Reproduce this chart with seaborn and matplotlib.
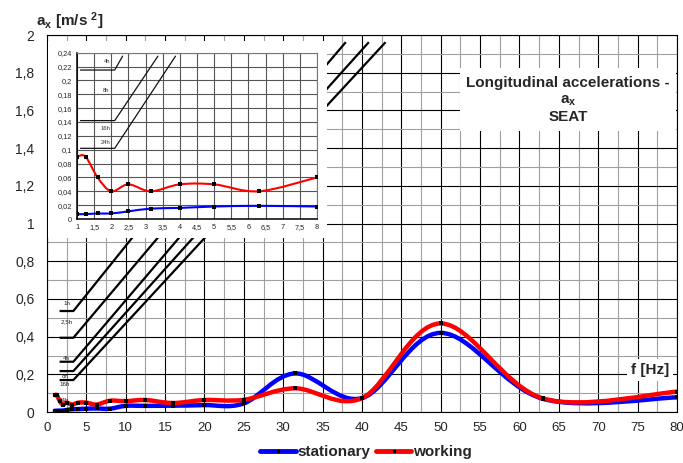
import numpy as np
import pandas as pd
import matplotlib
matplotlib.use("Agg")
import matplotlib.pyplot as plt
import seaborn as sns
from matplotlib.path import Path
from matplotlib.patches import PathPatch, Rectangle
from matplotlib.lines import Line2D
from matplotlib.ticker import MultipleLocator, FuncFormatter

# ---------------- data ----------------
freqs = [1, 1.25, 1.6, 2, 2.5, 3.15, 4, 5, 6.3, 8, 10, 12.5, 16, 20, 25, 31.5, 40, 50, 63, 80]
stationary = [0.007, 0.007, 0.008, 0.008, 0.011, 0.015, 0.016, 0.018, 0.019, 0.018,
              0.033, 0.033, 0.034, 0.037, 0.046, 0.205, 0.074, 0.42, 0.070, 0.078]
working = [0.090, 0.090, 0.060, 0.040, 0.050, 0.040, 0.050, 0.050, 0.040, 0.060,
           0.058, 0.064, 0.048, 0.064, 0.065, 0.126, 0.074, 0.47, 0.072, 0.108]

# exposure-time boundary lines (main chart)
iso_labels = ["1h", "2,5h", "4h", "8h", "16h"]
iso_levels = [0.536, 0.394, 0.267, 0.2175, 0.17]
iso_slopes = [0.052, 0.0495, 0.049, 0.0465, 0.0452]
# exposure-time boundary lines (inset)
inset_iso_levels = [0.215, 0.142, 0.102]
inset_iso_slopes = [0.087, 0.0738, 0.075]
inset_iso_labels = ["4h", "8h", "16h", "24h"]

x_ticks = list(range(0, 81, 5))
y_ticks = [0, 0.2, 0.4, 0.6, 0.8, 1.0, 1.2, 1.4, 1.6, 1.8, 2.0]

BLUE = "#0000ff"
RED = "#ff0000"

sns.set_style("white")
plt.rcParams['font.family'] = ['Liberation Sans', 'DejaVu Sans']
plt.rcParams['mathtext.fontset'] = 'custom'
plt.rcParams['mathtext.rm'] = 'Liberation Sans'
plt.rcParams['mathtext.bf'] = 'Liberation Sans:bold'
plt.rcParams['mathtext.it'] = 'Liberation Sans:italic'


def smooth_path(x, y):
    """Excel-like smoothed line: cubic Bezier through the data points."""
    pts = np.column_stack([x, y]).astype(float)
    n = len(pts)
    verts = [pts[0]]
    codes = [Path.MOVETO]
    for i in range(n - 1):
        p0 = pts[i - 1] if i > 0 else pts[i]
        p1 = pts[i]
        p2 = pts[i + 1]
        p3 = pts[i + 2] if i + 2 < n else pts[i + 1]
        c1 = p1 + (p2 - p0) / 6.0
        c2 = p2 - (p3 - p1) / 6.0
        verts += [c1, c2, p2]
        codes += [Path.CURVE4] * 3
    return Path(verts, codes)


comma = FuncFormatter(lambda v, p: f"{v:g}".replace('.', ','))

fig = plt.figure(figsize=(6.83, 4.63), dpi=100)
ax = fig.add_axes([0.0688, 0.110, 0.9224, 0.8144])
ax.set_xlim(0, 80)
ax.set_ylim(0, 2)
ax.set_xticks(x_ticks)
ax.set_yticks(y_ticks)
ax.xaxis.set_minor_locator(MultipleLocator(2.5))
ax.yaxis.set_minor_locator(MultipleLocator(0.1))
ax.xaxis.set_major_formatter(comma)
ax.yaxis.set_major_formatter(comma)
ax.set_axisbelow(True)
ax.grid(which='major', color='black', lw=0.8)
ax.grid(which='minor', color='#a0a0a0', lw=0.8)
ax.tick_params(axis='x', which='both', direction='out', length=4, color='black',
               labelsize=9.5, pad=3)
ax.tick_params(axis='y', which='major', direction='out', length=5, color='black',
               labelsize=10, pad=4)
ax.tick_params(axis='y', which='minor', length=0)
for s in ax.spines.values():
    s.set_color('black')
    s.set_linewidth(0.8)

# boundary lines
Y_TOP = 1.962
for lab, lev, sl in zip(iso_labels, iso_levels, iso_slopes):
    x_end = 3.35 + (Y_TOP - lev) / sl
    ax.plot([1.6, 3.35, x_end], [lev, lev, Y_TOP], color='black', lw=1.6, zorder=2,
            solid_capstyle='butt')
lab_pos = [(2.5, 0.578), (2.5, 0.48), (2.5, 0.285), (2.3, 0.19), (2.3, 0.147), (2.1, 0.063)]
for lab, (lx, ly) in zip(iso_labels + ["24h"], lab_pos):
    ax.text(lx, ly, lab, fontsize=4.5, color='#222', ha='center', va='center', zorder=2)

# white areas (under inset and title)
ax.add_patch(Rectangle((0.12, 0.923), 35.43, 1.968 - 0.923, facecolor='white',
                       edgecolor='none', zorder=3))
ax.add_patch(Rectangle((52.45, 1.49), 27.4, 0.335, facecolor='white',
                       edgecolor='none', zorder=3))

# curves
ax.add_patch(PathPatch(smooth_path(freqs, stationary), fill=False, edgecolor=BLUE,
                       lw=3.2, zorder=4, capstyle='round', joinstyle='round'))
ax.add_patch(PathPatch(smooth_path(freqs, working), fill=False, edgecolor=RED,
                       lw=3.2, zorder=5, capstyle='round', joinstyle='round'))
sns.scatterplot(x=freqs, y=stationary, ax=ax, color='black', marker='s', s=7,
                linewidth=0, zorder=6, legend=False)
sns.scatterplot(x=freqs, y=working, ax=ax, color='black', marker='s', s=7,
                linewidth=0, zorder=6, legend=False)

# ---------------- inset ----------------
ins = fig.add_axes([77 / 683, 1 - 219 / 463, 240 / 683, 166.3 / 463])
ins.set_facecolor('white')
ins.set_xlim(1, 8)
ins.set_ylim(0, 0.24)
ins.xaxis.set_major_locator(MultipleLocator(0.5))
ins.yaxis.set_major_locator(MultipleLocator(0.02))
ins.xaxis.set_major_formatter(comma)
ins.yaxis.set_major_formatter(comma)
ins.set_axisbelow(True)
ins.grid(which='major', color='#555555', lw=0.8)
ins.tick_params(axis='both', which='major', direction='out', length=2, labelsize=5.3,
                pad=1.5, color='#333')
for side, s in ins.spines.items():
    s.set_color('black' if side in ('left', 'bottom') else '#777777')
    s.set_linewidth(1.1 if side in ('left', 'bottom') else 0.8)

for lev, sl in zip(inset_iso_levels, inset_iso_slopes):
    x_end = 2.1 + (0.235 - lev) / sl
    ins.plot([1.1, 2.1, x_end], [lev, lev, 0.235], color='#111', lw=0.9, zorder=2)
ins_lab_pos = [(1.87, 0.227), (1.84, 0.186), (1.84, 0.131), (1.84, 0.111)]
for lab, (lx, ly) in zip(inset_iso_labels, ins_lab_pos):
    ins.text(lx, ly, lab, fontsize=4.2, color='#333', ha='center', va='center')

n_in = freqs.index(8) + 1
ins.add_patch(PathPatch(smooth_path(freqs[:n_in], stationary[:n_in]), fill=False,
                        edgecolor=BLUE, lw=1.5, zorder=4))
ins.add_patch(PathPatch(smooth_path(freqs[:n_in], working[:n_in]), fill=False,
                        edgecolor=RED, lw=1.5, zorder=5))
sns.scatterplot(x=freqs[:n_in], y=stationary[:n_in], ax=ins, color='black', marker='s',
                s=8, linewidth=0, zorder=6, legend=False)
sns.scatterplot(x=freqs[:n_in], y=working[:n_in], ax=ins, color='black', marker='s',
                s=8, linewidth=0, zorder=6, legend=False)

# ---------------- texts ----------------
fig.text(36 / 683, 1 - 21 / 463, r"a$_{\mathbf{x}}$ [m/s $^{\mathbf{2}}$]",
         fontsize=11, fontweight='bold', ha='left', va='center')
fig.text(568 / 683, 1 - 83 / 463, "Longitudinal accelerations -", fontsize=11,
         fontweight='bold', ha='center', va='center')
fig.text(568 / 683, 1 - 101 / 463, r"a$_{\mathbf{x}}$", fontsize=11,
         fontweight='bold', ha='center', va='center')
fig.text(568 / 683, 1 - 117 / 463, "SEAT", fontsize=11,
         fontweight='bold', ha='center', va='center')
fig.text(650 / 683, 1 - 370 / 463, "f [Hz]", fontsize=11, fontweight='bold',
         ha='center', va='center',
         bbox=dict(facecolor='white', edgecolor='none', pad=2.5))

handles = [
    Line2D([0], [0], color=BLUE, lw=3.5, marker='s', markersize=2,
           markerfacecolor='black', markeredgecolor='black'),
    Line2D([0], [0], color=RED, lw=3.5, marker='s', markersize=2,
           markerfacecolor='black', markeredgecolor='black'),
]
fig.legend(handles=handles, labels=['stationary', 'working'], loc='center',
           bbox_to_anchor=(366 / 683, 1 - 452 / 463), ncol=2, frameon=False,
           prop={'weight': 'bold', 'size': 11}, handlelength=2.3,
           handletextpad=0.1, columnspacing=0.4, numpoints=1)

fig.savefig("out.png", dpi=100)
